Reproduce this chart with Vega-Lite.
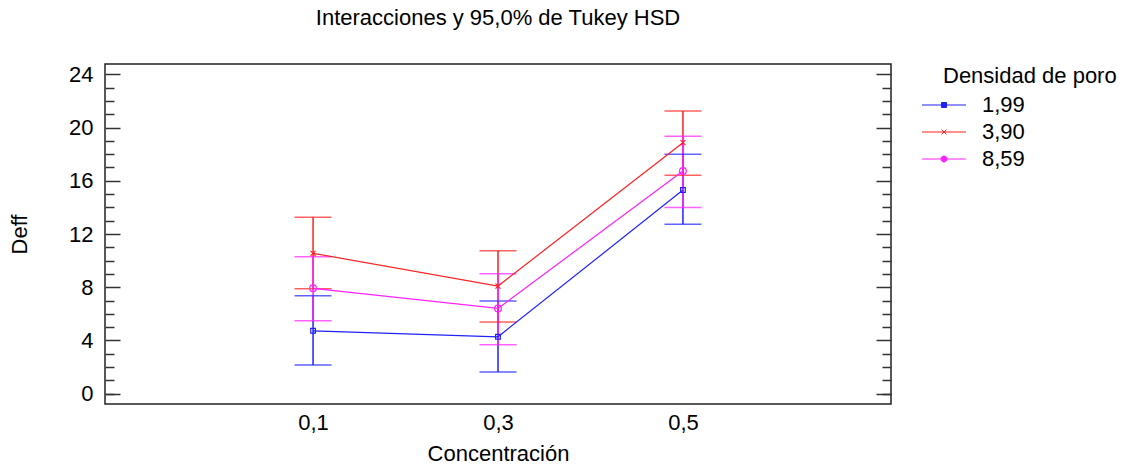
{
  "$schema": "https://vega.github.io/schema/vega-lite/v6.json",
  "width": 786,
  "height": 340,
  "autosize": {"type": "none"},
  "padding": {"left": 105, "top": 64, "right": 234, "bottom": 66},
  "background": "white",
  "config": {
    "font": "Liberation Sans",
    "view": {"stroke": "#222", "strokeWidth": 1.5},
    "axis": {"grid": false, "labelColor": "#000", "titleColor": "#000", "labelFont": "Liberation Sans", "titleFont": "Liberation Sans", "titleFontWeight": "normal"},
    "legend": {
      "orient": "none",
      "legendX": 838,
      "legendY": 2,
      "titleFont": "Liberation Sans",
      "titleFontSize": 22,
      "titleFontWeight": "normal",
      "titleColor": "#000",
      "titlePadding": 6,
      "labelFont": "Liberation Sans",
      "labelFontSize": 22,
      "labelColor": "#000",
      "labelOffset": 17,
      "symbolSize": 400,
      "symbolStrokeWidth": 1,
      "symbolFillColor": "transparent",
      "rowPadding": 5
    }
  },
  "title": {
    "text": "Interacciones y 95,0% de Tukey HSD",
    "anchor": "middle",
    "font": "Liberation Sans",
    "fontSize": 22,
    "fontWeight": "normal",
    "color": "#000",
    "offset": 33
  },
  "data": {
    "values": [
      {"conc": 0.1, "dens": "1,99", "mean": 4.73, "lo": 2.16, "hi": 7.36},
      {"conc": 0.3, "dens": "1,99", "mean": 4.28, "lo": 1.63, "hi": 6.96},
      {"conc": 0.5, "dens": "1,99", "mean": 15.30, "lo": 12.73, "hi": 17.99},
      {"conc": 0.1, "dens": "3,90", "mean": 10.55, "lo": 7.89, "hi": 13.25},
      {"conc": 0.3, "dens": "3,90", "mean": 8.09, "lo": 5.39, "hi": 10.74},
      {"conc": 0.5, "dens": "3,90", "mean": 18.86, "lo": 16.41, "hi": 21.24},
      {"conc": 0.1, "dens": "8,59", "mean": 7.92, "lo": 5.48, "hi": 10.29},
      {"conc": 0.3, "dens": "8,59", "mean": 6.41, "lo": 3.68, "hi": 9.02},
      {"conc": 0.5, "dens": "8,59", "mean": 16.73, "lo": 14.0, "hi": 19.34}
    ]
  },
  "encoding": {
    "x": {
      "field": "conc",
      "type": "quantitative",
      "scale": {"domain": [-0.125, 0.725], "nice": false, "zero": false},
      "axis": {
        "orient": "bottom",
        "values": [0.1, 0.3, 0.5],
        "ticks": false,
        "domain": false,
        "labelFontSize": 22,
        "labelPadding": 8,
        "labelExpr": "replace(format(datum.value, '.1f'), '.', ',')",
        "title": "Concentración",
        "titleFontSize": 22,
        "titlePadding": 10
      }
    }
  },
  "layer": [
    {
      "mark": {"type": "rule", "strokeWidth": 1.5},
      "encoding": {
        "y": {
          "field": "lo",
          "type": "quantitative",
          "scale": {"domain": [-0.77, 24.77], "nice": false, "zero": false},
          "axis": {
            "orient": "left",
            "values": [0, 4, 8, 12, 16, 20, 24],
            "ticks": false,
            "domain": false,
            "labelFontSize": 22,
            "labelPadding": 12,
            "title": "Deff",
            "titleFontSize": 22,
            "titlePadding": 37
          }
        },
        "y2": {"field": "hi"},
        "color": {"field": "dens", "type": "nominal", "scale": {"domain": ["1,99", "3,90", "8,59"], "range": ["#2020ff", "#ff2020", "#ff20ff"]}, "legend": {"title": "Densidad de poro"}}
      }
    },
    {
      "mark": {"type": "tick", "orient": "horizontal", "size": 37, "thickness": 1.5},
      "encoding": {
        "y": {
          "field": "lo",
          "type": "quantitative",
          "axis": {"orient": "left", "values": [0, 4, 8, 12, 16, 20, 24], "tickSize": -15, "tickWidth": 1.5, "tickColor": "#333", "labels": false, "domain": false, "title": null}
        },
        "fill": {"field": "dens", "type": "nominal", "scale": {"domain": ["1,99", "3,90", "8,59"], "range": ["#2020ff", "#ff2020", "#ff20ff"]}, "legend": null}
      }
    },
    {
      "mark": {"type": "tick", "orient": "horizontal", "size": 37, "thickness": 1.5},
      "encoding": {
        "y": {
          "field": "hi",
          "type": "quantitative",
          "axis": {"orient": "left", "values": [0, 1, 2, 3, 5, 6, 7, 9, 10, 11, 13, 14, 15, 17, 18, 19, 21, 22, 23], "tickSize": -9, "tickWidth": 1.5, "tickColor": "#333", "labels": false, "domain": false, "title": null}
        },
        "fill": {"field": "dens", "type": "nominal", "legend": null}
      }
    },
    {
      "mark": {"type": "line", "strokeWidth": 1.2},
      "encoding": {
        "y": {
          "field": "mean",
          "type": "quantitative",
          "axis": {"orient": "right", "values": [0, 4, 8, 12, 16, 20, 24], "tickSize": -15, "tickWidth": 1.5, "tickColor": "#333", "labels": false, "domain": false, "title": null}
        },
        "color": {"field": "dens", "type": "nominal", "legend": {"title": "Densidad de poro"}}
      }
    },
    {
      "transform": [{"filter": "datum.dens === '1,99'"}],
      "mark": {"type": "point", "shape": "square", "size": 22, "filled": false, "strokeWidth": 1.2, "opacity": 1},
      "encoding": {
        "y": {
          "field": "mean",
          "type": "quantitative",
          "axis": {"orient": "right", "values": [0, 1, 2, 3, 5, 6, 7, 9, 10, 11, 13, 14, 15, 17, 18, 19, 21, 22, 23], "tickSize": -9, "tickWidth": 1.5, "tickColor": "#333", "labels": false, "domain": false, "title": null}
        },
        "color": {"field": "dens", "type": "nominal", "legend": {"title": "Densidad de poro"}}
      }
    },
    {
      "transform": [{"filter": "datum.dens === '3,90'"}],
      "mark": {"type": "point", "shape": "M-1,-1L1,1M-1,1L1,-1", "size": 25, "filled": false, "strokeWidth": 1.2, "opacity": 1},
      "encoding": {
        "y": {"field": "mean", "type": "quantitative", "axis": null},
        "color": {"field": "dens", "type": "nominal", "legend": {"title": "Densidad de poro"}}
      }
    },
    {
      "transform": [{"filter": "datum.dens === '8,59'"}],
      "mark": {"type": "point", "shape": "circle", "size": 45, "filled": false, "strokeWidth": 1.2, "opacity": 1},
      "encoding": {
        "y": {"field": "mean", "type": "quantitative", "axis": null},
        "color": {"field": "dens", "type": "nominal", "legend": {"title": "Densidad de poro"}}
      }
    },
    {
      "transform": [{"filter": "false"}],
      "mark": {"type": "point", "filled": false, "size": 400, "strokeWidth": 1, "opacity": 1},
      "encoding": {
        "y": {"field": "mean", "type": "quantitative", "axis": null},
        "color": {"field": "dens", "type": "nominal", "legend": {"title": "Densidad de poro"}},
        "shape": {
          "field": "dens",
          "type": "nominal",
          "legend": {"title": "Densidad de poro"},
          "scale": {
            "domain": ["1,99", "3,90", "8,59"],
            "range": [
              "M-3.2,0H-1.25M-0.75,0H1.2M-1.25,-0.25H-0.75V0.25H-1.25Z",
              "M-3.2,0H1.2M-1.25,-0.25L-0.75,0.25M-1.25,0.25L-0.75,-0.25",
              "M-3.2,0H-1.3M-0.7,0H1.2M-0.7,0A0.3,0.3,0,1,1,-1.3,0A0.3,0.3,0,1,1,-0.7,0"
            ]
          }
        }
      }
    }
  ],
  "resolve": {"axis": {"y": "independent"}}
}
